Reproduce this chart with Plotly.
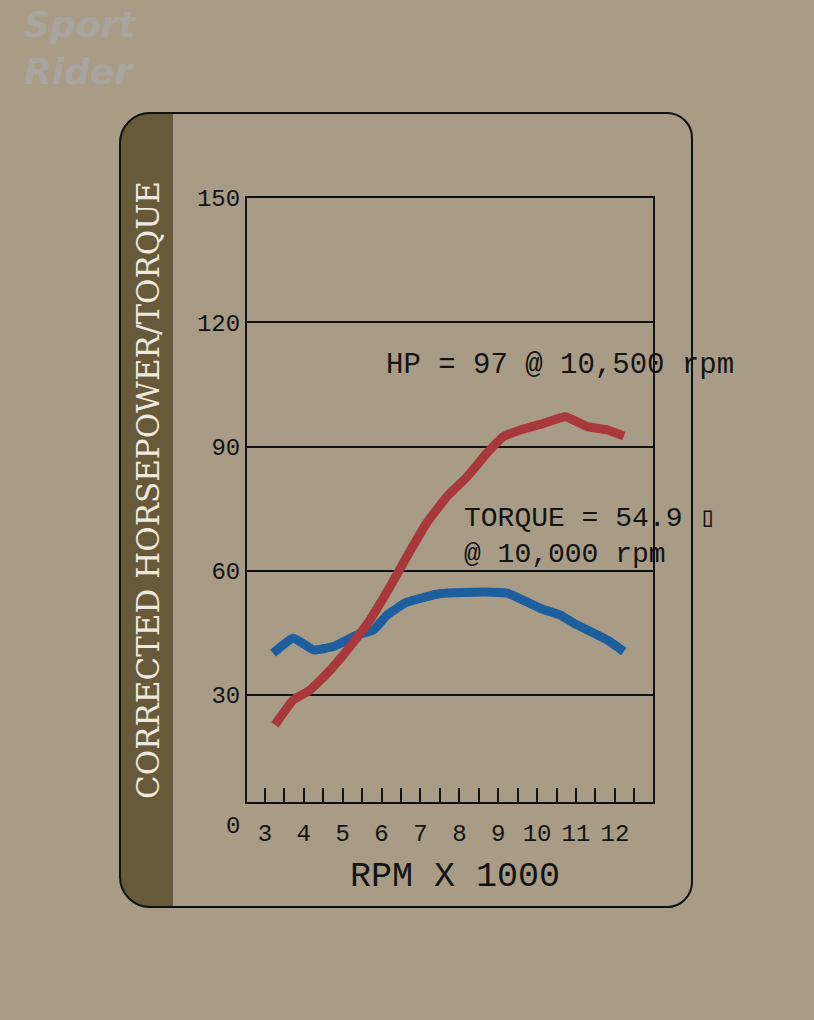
import plotly.graph_objects as go

# ---- data ----
hp_rpm = [3.26, 3.73, 4.16, 4.68, 5.19, 5.70, 6.22, 6.65, 7.16, 7.68, 8.20, 8.71, 9.14, 9.57, 10.17, 10.73, 11.29, 11.80, 12.23]
hp_val = [22.8, 28.8, 31.2, 36.0, 41.7, 48.1, 56.2, 63.4, 71.5, 77.9, 82.7, 88.4, 92.4, 94.0, 95.6, 97.2, 94.8, 94.0, 92.5]

tq_rpm = [3.21, 3.73, 4.25, 4.76, 5.37, 5.79, 6.14, 6.65, 7.51, 8.63, 9.23, 10.09, 10.60, 10.95, 11.80, 12.23]
tq_val = [40.1, 43.7, 40.9, 41.7, 44.5, 45.7, 49.3, 52.4, 54.5, 54.9, 54.6, 50.9, 49.3, 47.3, 43.3, 40.5]

x_ticks = [3, 4, 5, 6, 7, 8, 9, 10, 11, 12]
x_minor = [3.5, 4.5, 5.5, 6.5, 7.5, 8.5, 9.5, 10.5, 11.5, 12.5]
y_ticks = [30, 60, 90, 120, 150]

hp_note = "HP = 97 @ 10,500 rpm"
tq_note1 = "TORQUE = 54.9 \u25af"
tq_note2 = "@ 10,000 rpm"
side_title = "CORRECTED HORSEPOWER/TORQUE"
x_title = "RPM X 1000"

# ---- layout helpers (pixel -> paper) ----
W, H = 814, 1020
L, R, T, B = 247, 653, 198, 802


def px(x):
    return (x - L) / (R - L)


def py(y):
    return (B - y) / (B - T)


def rrect_path(x0, y0, x1, y1, rl, rr):
    k = 0.5523
    pts = []
    pts.append(("M", [(x0 + rl, y0)]))
    pts.append(("L", [(x1 - rr, y0)]))
    if rr:
        pts.append(("C", [(x1 - rr + rr * k, y0), (x1, y0 + rr - rr * k), (x1, y0 + rr)]))
    pts.append(("L", [(x1, y1 - rr)]))
    if rr:
        pts.append(("C", [(x1, y1 - rr + rr * k), (x1 - rr + rr * k, y1), (x1 - rr, y1)]))
    pts.append(("L", [(x0 + rl, y1)]))
    if rl:
        pts.append(("C", [(x0 + rl - rl * k, y1), (x0, y1 - rl + rl * k), (x0, y1 - rl)]))
    pts.append(("L", [(x0, y0 + rl)]))
    if rl:
        pts.append(("C", [(x0, y0 + rl - rl * k), (x0 + rl - rl * k, y0), (x0 + rl, y0)]))
    s = ""
    for cmd, p in pts:
        s += cmd + " " + " ".join(f"{px(a):.5f},{py(b):.5f}" for a, b in p) + " "
    return s + "Z"


BG = "#a89c86"
BAR = "#665a3b"
RED = "#a8383b"
BLUE = "#1c5e9e"
MONO = "Liberation Mono, Courier New, monospace"

fig = go.Figure()
fig.add_trace(go.Scatter(x=tq_rpm, y=tq_val, mode="lines",
                         line=dict(color=BLUE, width=9, shape="spline", smoothing=0.4),
                         showlegend=False, hoverinfo="skip"))
fig.add_trace(go.Scatter(x=hp_rpm, y=hp_val, mode="lines",
                         line=dict(color=RED, width=9, shape="spline", smoothing=0.4),
                         showlegend=False, hoverinfo="skip"))

shapes = [
    dict(type="path", xref="paper", yref="paper", path=rrect_path(120, 113, 173, 907, 30, 0),
         fillcolor=BAR, line=dict(width=0), layer="below"),
    dict(type="path", xref="paper", yref="paper", path=rrect_path(120, 113, 692, 907, 30, 25),
         fillcolor="rgba(0,0,0,0)", line=dict(color="#111111", width=2), layer="above"),
]

annotations = [
    dict(text=side_title, x=px(148), y=py(490), xref="paper", yref="paper", textangle=-90,
         showarrow=False, font=dict(family="DejaVu Serif", size=31, color="#efe9dc"),
         xanchor="center", yanchor="middle"),
    dict(text=hp_note, x=px(384), y=py(365), xref="paper", yref="paper", showarrow=False,
         xanchor="left", yanchor="middle", font=dict(family=MONO, size=29, color="#141414")),
    dict(text=tq_note1 + "<br>" + tq_note2, x=px(462), y=py(536), xref="paper", yref="paper",
         showarrow=False, align="left",
         xanchor="left", yanchor="middle", font=dict(family=MONO, size=28, color="#141414")),
    dict(text="0", x=px(233), y=py(826), xref="paper", yref="paper", showarrow=False,
         xanchor="center", yanchor="middle", font=dict(family=MONO, size=24, color="#141414")),
    dict(text=x_title, x=px(455), y=py(877), xref="paper", yref="paper", showarrow=False,
         xanchor="center", yanchor="middle", font=dict(family=MONO, size=35, color="#141414")),
    dict(text="<b><i>Sport<br>Rider</i></b>", x=px(22), y=py(48), xref="paper", yref="paper",
         showarrow=False, xanchor="left", yanchor="middle", align="left",
         font=dict(family="DejaVu Sans", size=36, color="#a9a59e")),
]

tickvals = x_ticks + x_minor
ticktext = [str(v) for v in x_ticks] + [""] * len(x_minor)

fig.update_layout(
    width=W, height=H,
    margin=dict(l=L, r=W - R, t=T, b=H - B, pad=0),
    paper_bgcolor=BG, plot_bgcolor="rgba(0,0,0,0)",
    shapes=shapes, annotations=annotations,
    xaxis=dict(range=[2.54, 12.98], tickvals=tickvals, ticktext=ticktext,
               ticks="inside", ticklen=14, tickwidth=2, tickcolor="#111111",
               showgrid=False, zeroline=False,
               showline=True, linecolor="#111111", linewidth=2, mirror=True,
               ticklabelstandoff=8,
               tickfont=dict(family=MONO, size=24, color="#141414")),
    yaxis=dict(range=[4.17, 150], tickvals=y_ticks, ticktext=[str(v) for v in y_ticks],
               ticks="", showgrid=True, gridcolor="#111111", gridwidth=2,
               zeroline=False, showline=True, linecolor="#111111", linewidth=2, mirror=True,
               tickfont=dict(family=MONO, size=24, color="#141414")),
)

fig.write_html("out.html", config={"displayModeBar": False},
               post_script="document.body.style.margin='0';document.body.style.padding='0';"
                           "document.documentElement.style.background='" + BG + "';")
